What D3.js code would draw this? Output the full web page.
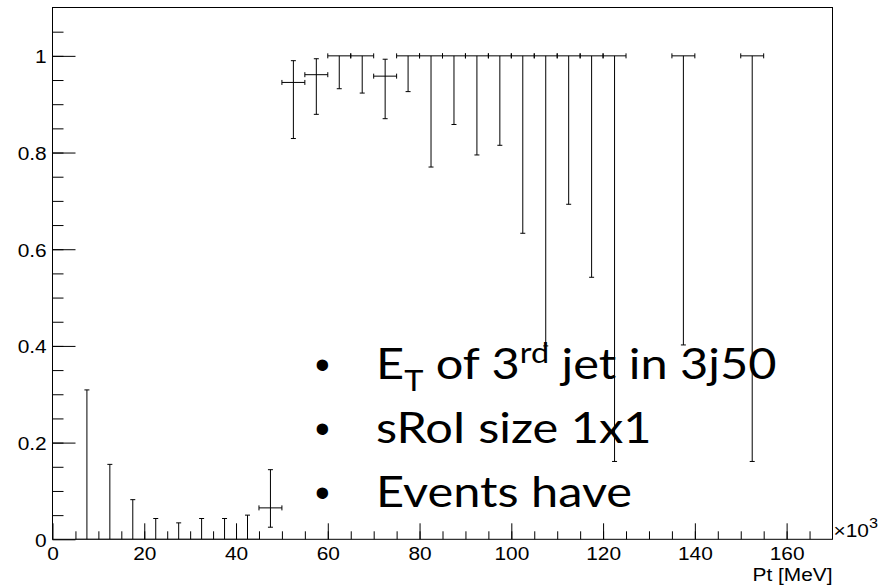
<!DOCTYPE html>
<html>
<head>
<meta charset="utf-8">
<script src="https://cdn.jsdelivr.net/npm/d3@7"></script>
<style>
  body { margin: 0; background: #fff; }
  svg { display: block; }
  .axis text { font-family: "Liberation Sans", Arial, sans-serif; font-size: 18px; fill: #000; }
  .axis path, .axis line { stroke: #000; }
  .err line { stroke: #000; stroke-width: 1; }
</style>
</head>
<body>
<svg width="891" height="587"></svg>
<script>
// bin centres (x 10^3 MeV), bin half width 2.5
var binCenters = [7.5, 12.5, 17.5, 22.5, 27.5, 32.5, 37.5, 42.5, 47.5, 52.5, 57.5, 62.5, 67.5, 72.5,
                  77.5, 82.5, 87.5, 92.5, 97.5, 102.5, 107.5, 112.5, 117.5, 122.5, 137.5, 152.5];
var efficiency = [0, 0, 0, 0, 0, 0, 0, 0, 0.065, 0.945, 0.961, 1, 1, 0.958,
                  1, 1, 1, 1, 1, 1, 1, 1, 1, 1, 1, 1];
var errLow  = [0, 0, 0, 0, 0, 0, 0, 0, 0.040, 0.116, 0.082, 0.068, 0.077, 0.088,
               0.074, 0.230, 0.142, 0.205, 0.185, 0.367, 0.600, 0.307, 0.458, 0.839, 0.598, 0.839];
var errHigh = [0.309, 0.155, 0.082, 0.043, 0.034, 0.043, 0.043, 0.050, 0.079, 0.045, 0.033, 0, 0, 0.035,
               0, 0, 0, 0, 0, 0, 0, 0, 0, 0, 0, 0];
var binHalf = 2.5;

var xTicks = [0, 20, 40, 60, 80, 100, 120, 140, 160];
var yTicks = [0, 0.2, 0.4, 0.6, 0.8, 1];
var yTickLabels = ["0", "0.2", "0.4", "0.6", "0.8", "1"];

var svg = d3.select("svg");
var margin = {top: 7.5, right: 58.5, bottom: 47.7, left: 52.5};
var width = +svg.attr("width") - margin.left - margin.right;
var height = +svg.attr("height") - margin.top - margin.bottom;
var stretch = "scale(1.16,1)"; // the pasted plot is a bit wider than tall

var x = d3.scaleLinear().domain([0, 170]).range([0, width]);
var y = d3.scaleLinear().domain([0, 1.1]).range([height, 0]);

var g = svg.append("g")
    .attr("transform", "translate(" + margin.left + "," + margin.top + ")");

g.append("clipPath").attr("id", "frame")
  .append("rect").attr("width", width).attr("height", height);

// minor ticks first
g.append("g").attr("class", "axis")
    .attr("transform", "translate(0," + height + ")")
    .call(d3.axisBottom(x).tickValues(d3.range(5, 170, 5)).tickSize(-8).tickFormat(""))
    .select(".domain").remove();
g.append("g").attr("class", "axis")
    .call(d3.axisLeft(y).tickValues(d3.range(0.05, 1.1, 0.05)).tickSize(-11).tickFormat(""))
    .select(".domain").remove();

var xAxis = g.append("g").attr("class", "axis")
    .attr("transform", "translate(0," + height + ")")
    .call(d3.axisBottom(x).tickValues(xTicks).tickSize(-16).tickSizeOuter(0).tickPadding(8));
xAxis.select(".domain").remove();
xAxis.selectAll("text").attr("transform", stretch);

var yAxis = g.append("g").attr("class", "axis")
    .call(d3.axisLeft(y).tickValues(yTicks).tickSize(-23).tickSizeOuter(0).tickPadding(5)
      .tickFormat(function(d, i) { return yTickLabels[i]; }));
yAxis.select(".domain").remove();
yAxis.selectAll("text").attr("dy", "0.38em").attr("transform", stretch);

g.append("rect")
    .attr("width", width).attr("height", height)
    .attr("fill", "none").attr("stroke", "#000").attr("stroke-width", 1);

// error bars
var cap = 2.5;
var pts = binCenters.map(function(c, i) {
  return {x: c, y: efficiency[i], lo: efficiency[i] - errLow[i], hi: efficiency[i] + errHigh[i]};
});

var err = g.append("g").attr("class", "err").attr("clip-path", "url(#frame)")
  .selectAll("g").data(pts).enter().append("g");

err.append("line")
    .attr("x1", function(d) { return x(d.x - binHalf); })
    .attr("x2", function(d) { return x(d.x + binHalf); })
    .attr("y1", function(d) { return y(d.y); })
    .attr("y2", function(d) { return y(d.y); });
err.filter(function(d) { return d.y > 0; }).selectAll(".hcap")
    .data(function(d) { return [[d.x - binHalf, d.y], [d.x + binHalf, d.y]]; })
    .enter().append("line")
    .attr("x1", function(p) { return x(p[0]); })
    .attr("x2", function(p) { return x(p[0]); })
    .attr("y1", function(p) { return y(p[1]) - cap; })
    .attr("y2", function(p) { return y(p[1]) + cap; });
err.append("line")
    .attr("x1", function(d) { return x(d.x); })
    .attr("x2", function(d) { return x(d.x); })
    .attr("y1", function(d) { return y(d.lo); })
    .attr("y2", function(d) { return y(d.hi); });
err.selectAll(".vcap")
    .data(function(d) {
      var c = [];
      if (d.hi > d.y) c.push(d.hi);
      if (d.lo < d.y) c.push(d.lo);
      return c.map(function(v) { return [d.x, v]; });
    })
    .enter().append("line")
    .attr("x1", function(p) { return x(p[0]) - cap; })
    .attr("x2", function(p) { return x(p[0]) + cap; })
    .attr("y1", function(p) { return y(p[1]); })
    .attr("y2", function(p) { return y(p[1]); });

// axis title and exponent
var axisFont = '"Liberation Sans", Arial, sans-serif';
svg.append("text")
    .attr("transform", "translate(" + (margin.left + width) + ",580.5) " + stretch)
    .attr("text-anchor", "end")
    .style("font-family", axisFont).style("font-size", "18px")
    .text("Pt [MeV]");
var ex = svg.append("text")
    .attr("transform", "translate(" + (margin.left + width + 1) + ",536.7) " + stretch)
    .style("font-family", axisFont).style("font-size", "18px");
ex.append("tspan").text("\u00d710");
ex.append("tspan").attr("dy", -9).style("font-size", "14px").text("3");

// slide overlay text
var bulletFont = "Lato, Carlito, Calibri, sans-serif";
var lines = [379, 442.7, 506.7];
lines.forEach(function(by) {
  svg.append("text")
      .attr("x", 315).attr("y", by)
      .style("font-family", axisFont).style("font-size", "42px")
      .text("\u2022");
});
function overlay(by) {
  return svg.append("text")
      .attr("transform", "translate(376," + by + ") " + stretch)
      .style("font-family", bulletFont).style("font-size", "42px");
}
var t1 = overlay(lines[0]);
t1.append("tspan").text("E");
t1.append("tspan").attr("dy", 12).style("font-size", "28px").text("T");
t1.append("tspan").attr("dy", -12).text(" of 3");
t1.append("tspan").attr("dy", -16).style("font-size", "28px").text("rd");
t1.append("tspan").attr("dy", 16).text(" jet in 3j50");

overlay(lines[1]).text("sRoI size 1x1");
overlay(lines[2]).text("Events have");
</script>
</body>
</html>
